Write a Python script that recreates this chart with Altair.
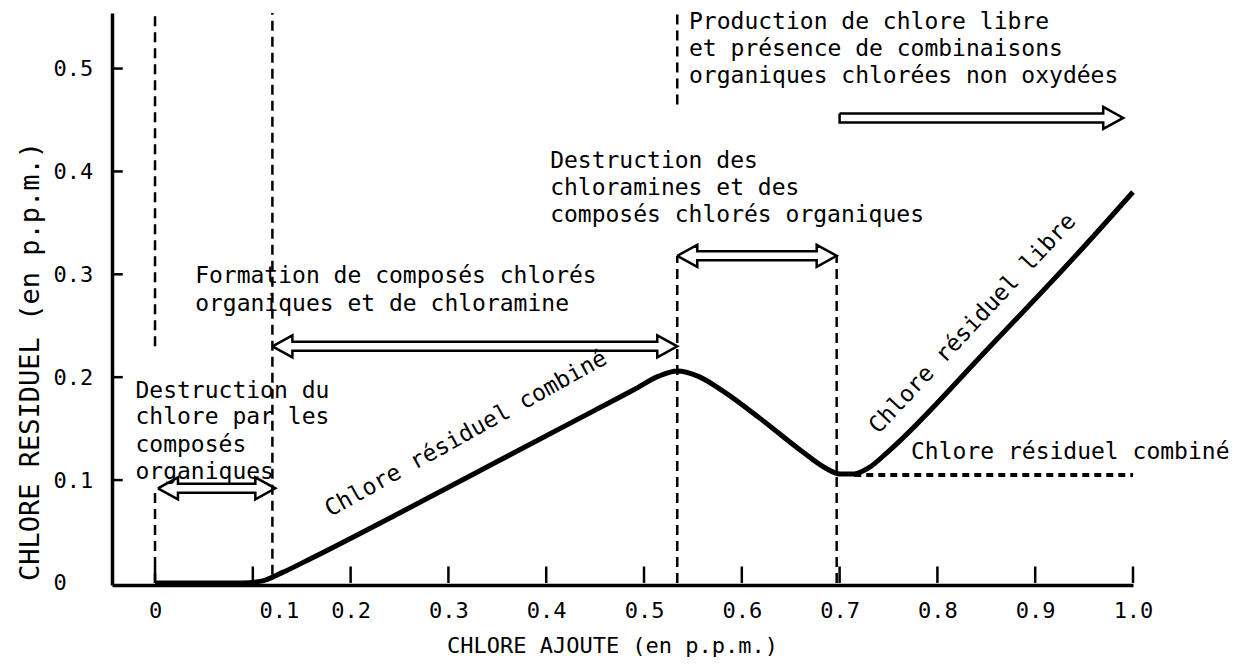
import altair as alt
import pandas as pd

# ---------------- data ----------------
X_DOMAIN = [-0.044, 1.0]
Y_DOMAIN = [-0.002, 0.554]
W, H = 1021, 572

curve_x = [0.0, 0.09, 0.11, 0.13, 0.16, 0.25, 0.35, 0.45, 0.49, 0.515, 0.534, 0.555,
           0.58, 0.62, 0.66, 0.685, 0.70, 0.715, 0.73, 0.75, 0.85, 0.95, 1.0]
curve_y = [0.0, 0.0, 0.002, 0.01, 0.024, 0.068, 0.118, 0.168, 0.188, 0.201, 0.206, 0.201,
           0.187, 0.159, 0.129, 0.112, 0.106, 0.106, 0.112, 0.128, 0.226, 0.327, 0.38]

dotted_x = [0.715, 1.0]
dotted_y = [0.105, 0.105]

x_ticks = [0.0, 0.1, 0.2, 0.3, 0.4, 0.5, 0.6, 0.7, 0.8, 0.9, 1.0]
y_ticks = [0.0, 0.1, 0.2, 0.3, 0.4, 0.5]

vline_x = [0.0, 0.0, 0.12, 0.534, 0.534, 0.697]
vline_y1 = [0.23, 0.0, 0.008, 0.465, 0.0, 0.0]
vline_y2 = [0.554, 0.093, 0.554, 0.554, 0.318, 0.318]

arrow_x1 = [0.003, 0.12, 0.534, 0.70]
arrow_x2 = [0.123, 0.534, 0.697, 0.99]
arrow_y = [0.092, 0.23, 0.318, 0.452]
arrow_kind = ["double", "double", "double", "right"]

ann_text = ["Production de chlore libre", "et présence de combinaisons",
            "organiques chlorées non oxydées",
            "Destruction des", "chloramines et des", "composés chlorés organiques",
            "Formation de composés chlorés", "organiques et de chloramine",
            "Destruction du", "chlore par les", "composés", "organiques",
            "Chlore résiduel combiné"]
ann_x = [0.546] * 3 + [0.404] * 3 + [0.041] * 2 + [-0.02] * 4 + [0.773]
ann_y = [0.545, 0.519, 0.493, 0.41, 0.384, 0.358, 0.298, 0.271,
         0.187, 0.161, 0.134, 0.108, 0.127]

rot1_text, rot1_x, rot1_y = ["Chlore résiduel combiné"], [0.318], [0.145]
rot2_text, rot2_x, rot2_y = ["Chlore résiduel libre"], [0.836], [0.252]

FONT = "DejaVu Sans Mono"

# ---------------- helpers ----------------
kx = (X_DOMAIN[1] - X_DOMAIN[0]) / W
ky = (Y_DOMAIN[1] - Y_DOMAIN[0]) / H


def arrow_outline(x1, x2, y, kind, h=4.5, L=20, Hh=11):
    hy, Lx, Hy = h * ky, L * kx, Hh * ky
    if kind == "double":
        pts = [(x1, y), (x1 + Lx, y + Hy), (x1 + Lx, y + hy), (x2 - Lx, y + hy),
               (x2 - Lx, y + Hy), (x2, y), (x2 - Lx, y - Hy), (x2 - Lx, y - hy),
               (x1 + Lx, y - hy), (x1 + Lx, y - Hy), (x1, y)]
    else:
        pts = [(x1, y + hy), (x2 - Lx, y + hy), (x2 - Lx, y + Hy), (x2, y),
               (x2 - Lx, y - Hy), (x2 - Lx, y - hy), (x1, y - hy), (x1, y + hy)]
    return pts


rows = []
for i, (a, b, yy, k) in enumerate(zip(arrow_x1, arrow_x2, arrow_y, arrow_kind)):
    for j, (px, py) in enumerate(arrow_outline(a, b, yy, k)):
        rows.append({"id": i, "o": j, "x": px, "y": py})
arrows_df = pd.DataFrame(rows)

xs = alt.Scale(domain=X_DOMAIN, nice=False, zero=False)
ys = alt.Scale(domain=Y_DOMAIN, nice=False, zero=False)

label_expr = "datum.value == 0 ? '0' : format(datum.value, '.1f')"

x_axis = alt.Axis(values=x_ticks, ticks=False, grid=False, domainColor="black",
                  domainWidth=3.5, labelFont=FONT, labelFontSize=22, labelColor="black",
                  labelPadding=15, labelExpr=label_expr, labelFlush=False,
                  labelOverlap=False,
                  labelOffset={"condition": {"test": "datum.value > 0.05 && datum.value < 0.15",
                                             "value": 26}, "value": 0},
                  title="CHLORE AJOUTE (en p.p.m.)", titleFont=FONT, titleFontSize=22,
                  titleFontWeight="normal", titleColor="black", titleX=500, titleY=60,
                  titleAlign="center", titleBaseline="middle")
y_axis = alt.Axis(values=y_ticks, ticks=False, grid=False, domainColor="black",
                  domainWidth=3.5, labelFont=FONT, labelFontSize=22, labelColor="black",
                  labelAlign="left", labelPadding=59, labelExpr=label_expr,
                  labelFlush=False, labelOverlap=False,
                  title="CHLORE RESIDUEL (en p.p.m.)", titleFont=FONT, titleFontSize=27,
                  titleFontWeight="normal", titleColor="black", titleAngle=270,
                  titleX=-82, titleY=348, titleAlign="center", titleBaseline="middle")


def X(field):
    return alt.X(field, scale=xs, axis=x_axis)


def Y(field):
    return alt.Y(field, scale=ys, axis=y_axis)


curve_df = pd.DataFrame({"x": curve_x, "y": curve_y})
curve = alt.Chart(curve_df).mark_line(color="black", strokeWidth=5,
                                      interpolate="monotone").encode(
    x=X("x:Q"), y=Y("y:Q"))

dotted = alt.Chart(pd.DataFrame({"x": dotted_x, "y": dotted_y})).mark_line(
    color="black", strokeWidth=4, strokeDash=[7, 5]).encode(x=X("x:Q"), y=Y("y:Q"))

vlines = alt.Chart(pd.DataFrame({"x": vline_x, "y1": vline_y1, "y2": vline_y2})).mark_rule(
    color="black", strokeWidth=2.5, strokeDash=[10, 6]).encode(
    x=X("x:Q"), y=Y("y1:Q"), y2="y2:Q")

xt_df = pd.DataFrame({"x": x_ticks, "y1": [0.0] * len(x_ticks), "y2": [0.016] * len(x_ticks)})
xtick_rules = alt.Chart(xt_df).mark_rule(color="black", strokeWidth=2.5).encode(
    x=X("x:Q"), y=Y("y1:Q"), y2="y2:Q")

yt = y_ticks[1:]
yt_df = pd.DataFrame({"y": yt, "x1": [X_DOMAIN[0]] * len(yt),
                      "x2": [X_DOMAIN[0] + 0.011] * len(yt)})
ytick_rules = alt.Chart(yt_df).mark_rule(color="black", strokeWidth=2.5).encode(
    y=Y("y:Q"), x=X("x1:Q"), x2="x2:Q")

arrows = alt.Chart(arrows_df).mark_line(color="black", strokeWidth=2.5).encode(
    x=X("x:Q"), y=Y("y:Q"), detail="id:N", order="o:Q")

ann = alt.Chart(pd.DataFrame({"t": ann_text, "x": ann_x, "y": ann_y})).mark_text(
    font=FONT, fontSize=23, align="left", baseline="middle", color="black").encode(
    x=X("x:Q"), y=Y("y:Q"), text="t:N")

rot1 = alt.Chart(pd.DataFrame({"t": rot1_text, "x": rot1_x, "y": rot1_y})).mark_text(
    font=FONT, fontSize=23, align="center", baseline="middle", color="black",
    angle=331).encode(x=X("x:Q"), y=Y("y:Q"), text="t:N")

rot2 = alt.Chart(pd.DataFrame({"t": rot2_text, "x": rot2_x, "y": rot2_y})).mark_text(
    font=FONT, fontSize=23, align="center", baseline="middle", color="black",
    angle=313).encode(x=X("x:Q"), y=Y("y:Q"), text="t:N")

chart = alt.layer(curve, dotted, vlines, xtick_rules, ytick_rules, arrows, ann, rot1, rot2
                  ).properties(
    width=W, height=H,
    autosize=alt.AutoSizeParams(type="none"),
    padding={"left": 104, "top": 5, "right": 114, "bottom": 76},
    background="white",
).configure_view(stroke=None)

chart.save("out.html", embed_options={"renderer": "svg", "actions": False})
